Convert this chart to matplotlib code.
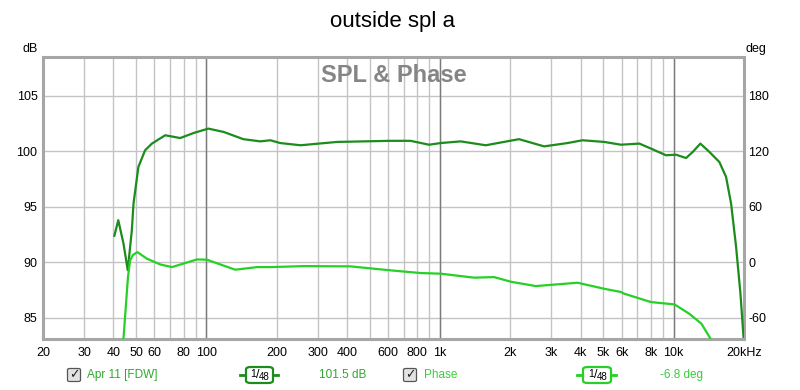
import numpy as np
import matplotlib.pyplot as plt
from matplotlib.patches import FancyBboxPatch
from matplotlib.lines import Line2D

plt.rcParams['font.family'] = ['Liberation Sans', 'DejaVu Sans']
plt.rcParams['axes.unicode_minus'] = False

# SPL trace (Hz, dB)
spl_freq = [40.4, 42.0, 44.2, 46.1, 48.0, 48.8, 51.2, 54.7, 58.5, 66.7, 77.3, 88.1,
            102, 118.6, 144, 170, 188, 207, 253, 363, 614, 748, 897, 1007, 1226,
            1570, 2178, 2790, 3514, 4075, 5043, 5946, 7130, 7998, 9270, 10235,
            11300, 12070, 13010, 14220, 15690, 16760, 17610, 18500, 19310, 19900]
spl_db = [92.4, 93.8, 91.7, 89.3, 92.9, 95.3, 98.6, 100.1, 100.7, 101.45, 101.2, 101.65,
          102.05, 101.75, 101.1, 100.9, 101.0, 100.75, 100.55, 100.85, 100.95, 100.95, 100.6, 100.75, 100.9,
          100.55, 101.1, 100.45, 100.75, 101.0, 100.85, 100.6, 100.7, 100.25, 99.65, 99.7,
          99.4, 99.95, 100.7, 99.95, 99.04, 97.7, 95.3, 91.4, 87.2, 83.3]

# Phase trace (Hz, deg)
ph_freq = [44.2, 46.2, 47.2, 48.5, 50.7, 55.7, 63.5, 71.2, 81.2, 91.2, 100.6, 114.7,
           133, 164.8, 188, 261, 414, 614, 826, 1007, 1398, 1703, 2020, 2570, 3878,
           5043, 5946, 6141, 7998, 10080, 11660, 13150, 14520]
ph_deg = [-82.5, -15.9, 2.2, 8, 11.1, 4, -2.2, -5.1, -0.7, 3.2, 2.9, -2.2,
          -7.9, -5.1, -5.1, -4, -4.3, -8.6, -11.5, -12.2, -16.5, -15.9, -21, -25.6, -22,
          -28.5, -32, -33.8, -42.9, -45.4, -55.5, -66.3, -84.3]

x_ticks = [20, 30, 40, 50, 60, 80, 100, 200, 300, 400, 600, 800, 1000, 2000, 3000,
           4000, 5000, 6000, 8000, 10000, 20000]
x_labels = ['20', '30', '40', '50', '60', '80', '100', '200', '300', '400', '600', '800',
            '1k', '2k', '3k', '4k', '5k', '6k', '8k', '10k', '20kHz']
x_minor = [70, 90, 500, 700, 900, 7000, 9000]
decades = [100, 1000, 10000]
db_ticks = [85, 90, 95, 100, 105]
deg_ticks = [-60, 0, 60, 120, 180]

W, H = 800, 390
fig = plt.figure(figsize=(8, 3.9), dpi=100)
ax = fig.add_axes([43 / W, 1 - 339 / H, 701 / W, 282 / H])
ax.set_xscale('log')
ax.set_xlim(20, 20000)
ax.set_ylim(83.1, 108.5)
ax.set_xticks(x_ticks)
ax.set_xticklabels(x_labels)
ax.set_xticks(x_minor, minor=True)
ax.set_yticks(db_ticks)
ax.tick_params(which='both', length=0, labelsize=9)
ax.tick_params(axis='x', pad=6)
ax.tick_params(axis='y', pad=4)
ax.grid(True, which='both', color='#c4c4c4', lw=1.0)
for d in decades:
    ax.axvline(d, color='#7a7a7a', lw=1.0, zorder=0.9)
ax.set_axisbelow(True)
for s in ax.spines.values():
    s.set_color('#a6a6a6')
    s.set_linewidth(2.2)

ax.plot(spl_freq, spl_db, color='#1c8c1c', lw=1.6, zorder=3)

ax2 = ax.twinx()
ax2.set_ylim((83.1 - 90) * 12, (108.5 - 90) * 12)
ax2.set_yticks(deg_ticks)
ax2.tick_params(length=0, labelsize=9, pad=3)
for s in ax2.spines.values():
    s.set_visible(False)
ax2.plot(ph_freq, ph_deg, color='#26d026', lw=1.6, zorder=3)

ax.text(0.5, 0.935, 'SPL & Phase', transform=ax.transAxes, ha='center', va='center',
        fontsize=17, fontweight='bold', color='#858585')

fig.text(393 / W, 1 - 22 / H, 'outside spl a', ha='center', va='center', fontsize=16)
fig.text(38 / W, 1 - 49 / H, 'dB', ha='right', va='center', fontsize=9)
fig.text(746 / W, 1 - 49 / H, 'deg', ha='left', va='center', fontsize=9)


def px(x, y):
    return x / W, 1 - y / H


def checkbox(cx, cy):
    fig.patches.append(FancyBboxPatch(px(cx - 6.5, cy + 6.5), 13 / W, 13 / H,
                                      boxstyle='round,pad=0,rounding_size=0.003',
                                      transform=fig.transFigure, fc='#e2e2e2', ec='#555555', lw=0.9))
    fig.text(*px(cx + 0.5, cy), '\u2713', ha='center', va='center', fontsize=9,
             fontweight='bold', color='#222222', family='DejaVu Sans')


def smoothing(x0, x1, cy, col):
    fig.lines.append(Line2D([x0 / W, x1 / W], [1 - cy / H] * 2, transform=fig.transFigure,
                            color=col, lw=2))
    bx0 = x0 + 6
    bx1 = x1 - 5
    cx = (bx0 + bx1) / 2
    fig.patches.append(FancyBboxPatch(px(bx0, cy + 8), (bx1 - bx0) / W, 16 / H,
                                      boxstyle='round,pad=0,rounding_size=0.006',
                                      transform=fig.transFigure, fc='white', ec=col, lw=1.6,
                                      zorder=3))
    fig.text(*px(cx - 6, cy - 1), '1', ha='center', va='center', fontsize=7.5,
             color='black', zorder=4)
    fig.text(*px(cx - 1.5, cy + 0.5), '/', ha='center', va='center', fontsize=9,
             color='black', zorder=4)
    fig.text(*px(cx + 5, cy + 2.5), '48', ha='center', va='center', fontsize=7,
             color='black', zorder=4)


checkbox(74, 375)
fig.text(*px(87, 375), 'Apr 11 [FDW]', ha='left', va='center', fontsize=8.5, color='#2ea82e')
smoothing(240, 278, 375, '#1c8c1c')
fig.text(*px(343, 375), '101.5 dB', ha='center', va='center', fontsize=8.5, color='#2ea82e')

checkbox(410, 375)
fig.text(*px(424, 375), 'Phase', ha='left', va='center', fontsize=8.5, color='#3acc3a')
smoothing(577, 616, 375, '#26d026')
fig.text(*px(681, 375), '-6.8 deg', ha='center', va='center', fontsize=8.5, color='#3acc3a')

fig.savefig('out.png', dpi=100)
